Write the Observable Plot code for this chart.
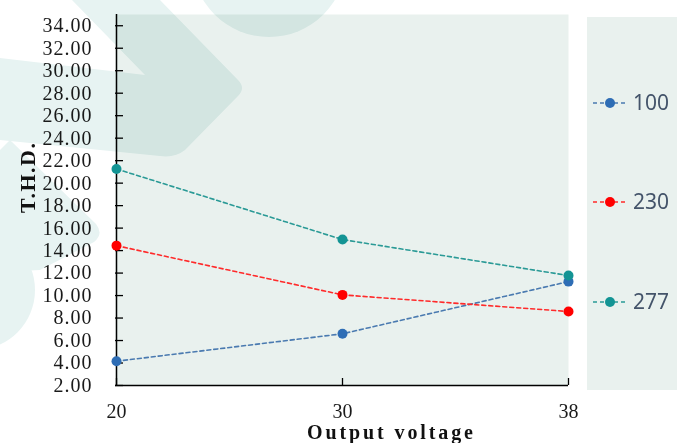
<!DOCTYPE html>
<html>
<head>
<meta charset="utf-8">
<script src="https://cdn.jsdelivr.net/npm/d3@7"></script>
<script src="https://cdn.jsdelivr.net/npm/@observablehq/plot@0.6"></script>
<style>
  html, body { margin: 0; padding: 0; background: #ffffff; }
  #wrap { position: relative; width: 685px; height: 443px; overflow: hidden; }
  #wrap > svg { position: absolute; left: 0; top: 0; }
  #wm { mix-blend-mode: multiply; pointer-events: none; }
  g[aria-label="y-axis tick label"] text { letter-spacing: 1px; }
</style>
</head>
<body>
<div id="wrap"></div>
<script>
// ---- data ----
const voltages = ["20", "30", "38"];
const seriesNames = ["100", "230", "277"];
const thd100 = [4.16, 6.6, 11.24];
const thd230 = [14.44, 10.06, 8.58];
const thd277 = [21.26, 14.98, 11.78];
const yTicks = d3.range(2, 35, 2);
const lineColors = ["#4a7ab0", "#ff2a2a", "#2a9a96"];
const dotColors = ["#2e6db5", "#ff0000", "#139494"];

const allValues = [thd100, thd230, thd277];
const rows = [];
seriesNames.forEach((s, i) => {
  voltages.forEach((v, j) => rows.push({series: s, voltage: v, thd: allValues[i][j]}));
});

const W = 685, H = 443;
const serif = "'Liberation Serif', 'DejaVu Serif', serif";

const chart = Plot.plot({
  width: W,
  height: H,
  marginLeft: 115,
  marginRight: 117,
  marginTop: 14,
  marginBottom: 58,
  style: {background: "transparent", fontFamily: serif, fontSize: "20px", color: "#111"},
  x: {type: "point", domain: voltages, padding: 0},
  y: {domain: [2, 35]},
  color: {domain: seriesNames, range: lineColors},
  marks: [
    Plot.frame({fill: "#e9f1ee", stroke: null}),
    Plot.axisY({ticks: yTicks, tickSize: -8, text: null, stroke: "#000", strokeWidth: 1.3, label: null}),
    Plot.axisY({ticks: yTicks, tickSize: 0, tickPadding: 23, tickFormat: d => d.toFixed(2), fill: "#1a1a1a", label: null, fontSize: 20}),
    Plot.axisX({tickSize: -7, text: null, stroke: "#000", strokeWidth: 1.3, label: null}),
    Plot.axisX({tickSize: 0, tickPadding: 18, fill: "#1a1a1a", label: null, fontSize: 20}),
    Plot.ruleX([voltages[0]], {stroke: "#000", strokeWidth: 1.5}),
    Plot.ruleY([2], {stroke: "#000", strokeWidth: 1.5}),
    Plot.line(rows, {x: "voltage", y: "thd", z: "series", stroke: "series", strokeWidth: 1.6, strokeDasharray: "4,3"}),
    Plot.dot(rows, {x: "voltage", y: "thd", fill: d => dotColors[seriesNames.indexOf(d.series)], r: 5, stroke: "none"})
  ]
});

const wrap = document.getElementById("wrap");
wrap.appendChild(chart);

// watermark shapes (multiply blend over the chart)
const ov = d3.create("svg").attr("id", "wm").attr("width", W).attr("height", H);
const wmColor = "#e7f3f2";
ov.append("path").attr("fill", wmColor)
  .attr("d", "M72,0 L160,0 L238,80 Q246,88 238,96 L185,150 Q175,158 160,156 L0,140 L0,58 L145,75 Z");
ov.append("path").attr("fill", wmColor)
  .attr("d", "M0,150 L10,140 L96,224 Q104,234 94,242 L40,270 L0,272 Z");
ov.append("circle").attr("fill", wmColor).attr("cx", -25).attr("cy", 290).attr("r", 60);
ov.append("circle").attr("fill", wmColor).attr("cx", 269).attr("cy", -40).attr("r", 77);
wrap.appendChild(ov.node());

// axis titles and legend
const tx = d3.create("svg").attr("width", W).attr("height", H);
tx.append("text").attr("x", 307).attr("y", 439).attr("textLength", 166).attr("lengthAdjust", "spacing")
  .attr("font-family", serif).attr("font-weight", "bold").attr("font-size", 20)
  .attr("fill", "#111").text("Output voltage");
tx.append("text").attr("transform", "translate(35,213) rotate(-90)").attr("textLength", 70).attr("lengthAdjust", "spacing")
  .attr("font-family", serif).attr("font-weight", "bold").attr("font-size", 22)
  .attr("fill", "#111").text("T.H.D.");

const lg = tx.append("g");
lg.append("rect").attr("x", 587).attr("y", 17).attr("width", 90).attr("height", 373).attr("fill", "#e9f1ee");
const legendY = [103, 202, 302];
seriesNames.forEach((s, i) => {
  const g = lg.append("g").attr("transform", `translate(0,${legendY[i]})`);
  g.append("line").attr("x1", 593).attr("x2", 628).attr("y1", 0).attr("y2", 0)
    .attr("stroke", lineColors[i]).attr("stroke-width", 1.6).attr("stroke-dasharray", "4,3");
  g.append("circle").attr("cx", 610).attr("cy", 0).attr("r", 5).attr("fill", dotColors[i]);
  g.append("text").attr("x", 633).attr("y", 0).attr("dy", "0.35em")
    .attr("font-family", "'Noto Sans', 'Open Sans', sans-serif").attr("font-size", 21)
    .attr("fill", "#44546a").text(s);
});
wrap.appendChild(tx.node());
</script>
</body>
</html>
